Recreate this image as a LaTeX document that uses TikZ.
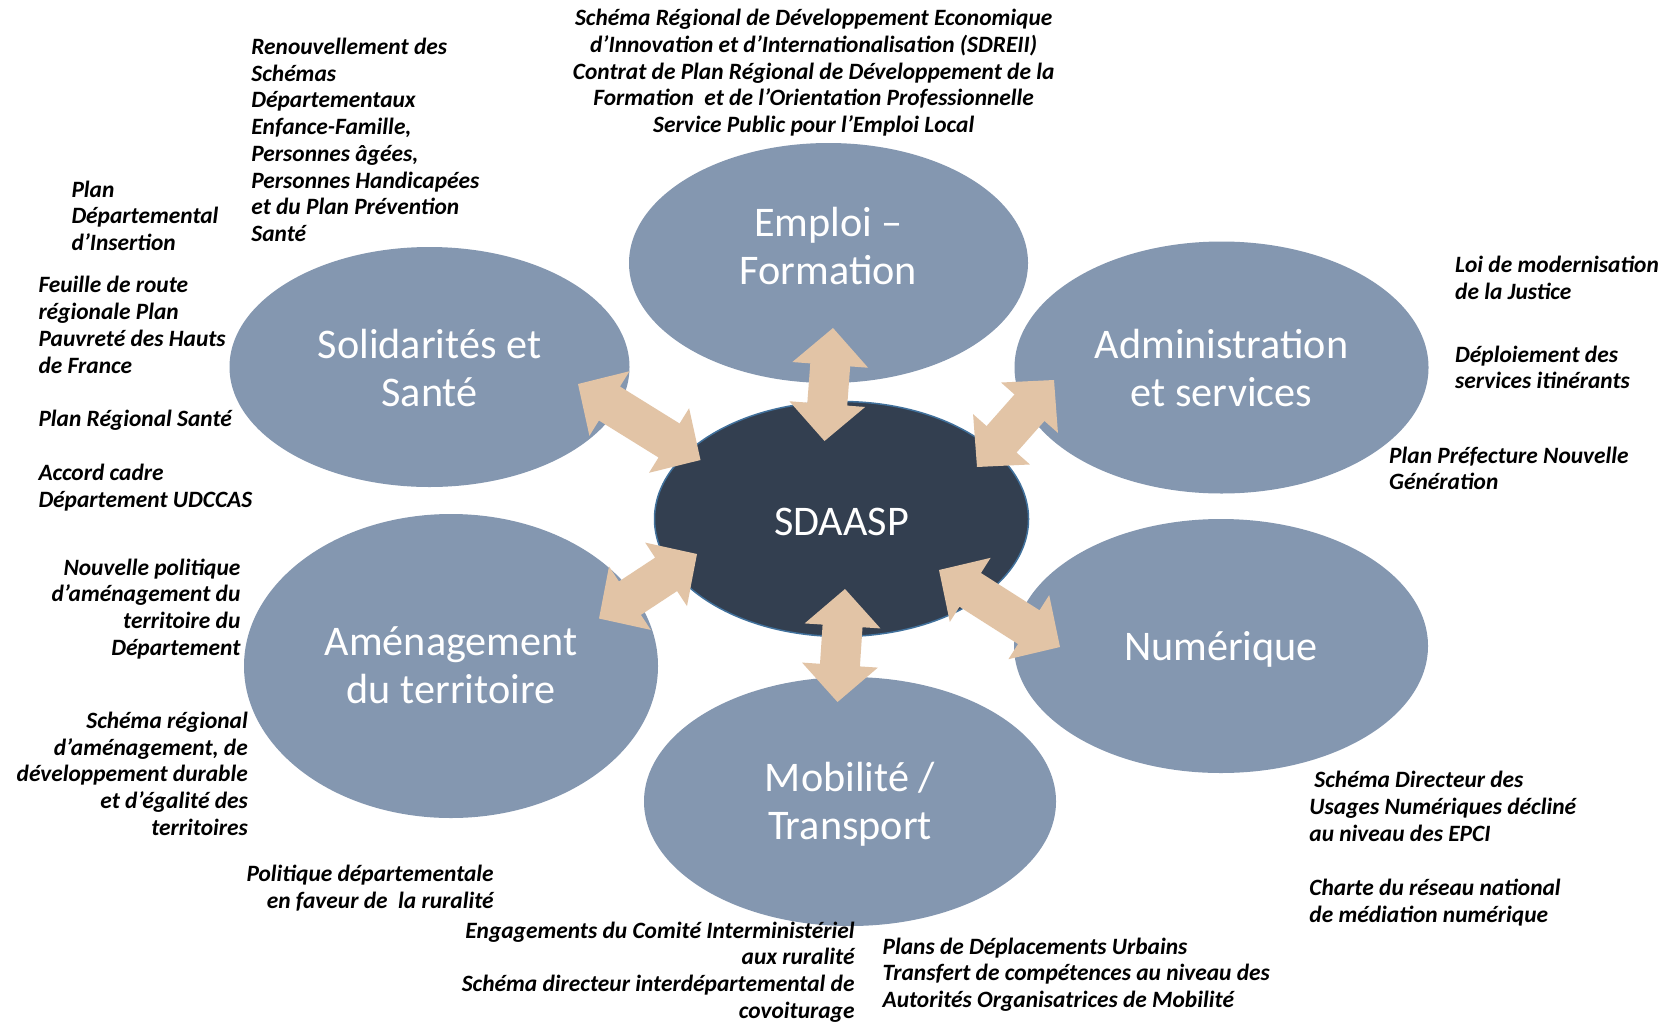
\documentclass[tikz,border=0pt]{standalone}
\usepackage{fontspec}
\setmainfont{Carlito}
\usetikzlibrary{calc,shapes.geometric}
\definecolor{bubblecol}{HTML}{8497B0}
\definecolor{corecol}{HTML}{333F50}
\definecolor{corerim}{HTML}{41719C}
\definecolor{arrowcol}{HTML}{E2C4A6}
\newcommand\notefont{\fontsize{23.4}{26.7}\selectfont\bfseries\itshape}
\newcommand\bubfont{\fontsize{42.2}{48}\selectfont}
\newcommand\arrhead{37pt}
\newcommand\arrhalf{38pt}
\newcommand\arrshaft{20pt}
\newcommand\dblarrow[2]{%
  \fill[arrowcol] (#1)
   -- ($(#1)!\arrhead!(#2)!\arrhalf!90:(#2)$)
   -- ($(#1)!\arrhead!(#2)!\arrshaft!90:(#2)$)
   -- ($(#2)!\arrhead!(#1)!\arrshaft!-90:(#1)$)
   -- ($(#2)!\arrhead!(#1)!\arrhalf!-90:(#1)$)
   -- (#2)
   -- ($(#2)!\arrhead!(#1)!\arrhalf!90:(#1)$)
   -- ($(#2)!\arrhead!(#1)!\arrshaft!90:(#1)$)
   -- ($(#1)!\arrhead!(#2)!\arrshaft!-90:(#2)$)
   -- ($(#1)!\arrhead!(#2)!\arrhalf!-90:(#2)$)
   -- cycle;}
\begin{document}
\begin{tikzpicture}[x=1pt,y=-1pt,
  bubble/.style={ellipse, fill=bubblecol, inner sep=0pt},
  core/.style={ellipse, fill=corecol, draw=corerim, line width=1.5pt, inner sep=0pt},
  bubtext/.style={inner sep=0pt, text=white, font=\bubfont, align=center},
  note/.style={font=\notefont, inner sep=0pt, execute at begin node=\strut},
  notel/.style={note, align=left, anchor=north west},
  noter/.style={note, align=right, anchor=north east},
  notec/.style={note, align=center, anchor=north}]
\useasboundingbox (0,0) rectangle (1669,1023);
\fill[white] (0,0) rectangle (1669,1023);

% bubbles
\node[bubble, minimum width=399pt, minimum height=240pt] (emploi) at (828.5,263) {};
\node[bubble, minimum width=400pt, minimum height=240pt] (solid) at (429.5,367) {};
\node[bubble, minimum width=414pt, minimum height=252pt] (admin) at (1221.5,367.5) {};
\node[bubble, minimum width=414pt, minimum height=304pt] (amenag) at (451,666) {};
\node[bubble, minimum width=414pt, minimum height=254pt] (numer) at (1221,646) {};
\node[bubble, minimum width=412pt, minimum height=249pt] (mobil) at (850,801.5) {};
\node[core, minimum width=374pt, minimum height=235pt] (sdaasp) at (841.5,519) {};

% bubble labels
\node[bubtext] (emploitext) at (828.5,245.5) {Emploi –\\Formation};
\node[bubtext] (solidtext) at (429.5,368) {Solidarités et\\Santé};
\node[bubtext] (admintext) at (1221.5,367.5) {Administration\\et services};
\node[bubtext] (amenagtext) at (451,665) {Aménagement\\du territoire};
\node[bubtext] (numertext) at (1221,649) {Numérique};
\node[bubtext] (mobiltext) at (850,804.5) {Mobilité /\\Transport};
\node[bubtext] (sdaasptext) at (841.5,522) {SDAASP};

% arrow end points
\coordinate (topA) at (833,328);
\coordinate (topB) at (824.5,441);
\coordinate (ulA) at (578,384);
\coordinate (ulB) at (700.5,460);
\coordinate (urA) at (1054,380);
\coordinate (urB) at (977,467);
\coordinate (llA) at (697,554);
\coordinate (llB) at (599,618.5);
\coordinate (lrA) at (939,570);
\coordinate (lrB) at (1060,647);
\coordinate (botA) at (845,589);
\coordinate (botB) at (837.5,702);
\dblarrow{topA}{topB}
\dblarrow{ulA}{ulB}
\dblarrow{urA}{urB}
\dblarrow{llA}{llB}
\dblarrow{lrA}{lrB}
\dblarrow{botA}{botB}

% notes
\node[notec] (n1) at (813.7,9.2) {Schéma Régional de Développement Economique\\d’Innovation et d’Internationalisation (SDREII)\\Contrat de Plan Régional de Développement de la\\Formation~ et de l’Orientation Professionnelle\\Service Public pour l’Emploi Local};
\node[notel] (n2) at (251.2,37.9) {Renouvellement des\\Schémas\\Départementaux\\Enfance-Famille,\\Personnes âgées,\\Personnes Handicapées\\et du Plan Prévention\\Santé};
\node[notel] (n3) at (71.3,180.5) {Plan\\Départemental\\d’Insertion};
\node[notel] (n4) at (38.3,276.3) {Feuille de route\\régionale Plan\\Pauvreté des Hauts\\de France};
\node[notel] (n5) at (38.3,407.2) {Plan Régional Santé};
\node[notel] (n6) at (38.3,463.7) {Accord cadre\\Département UDCCAS};
\node[noter] (n7) at (240.6,558.4) {Nouvelle politique\\d’aménagement du\\territoire du\\Département};
\node[noter] (n8) at (248,711.7) {Schéma régional\\d’aménagement, de\\développement durable\\et d’égalité des\\territoires};
\node[noter] (n9) at (493.9,865) {Politique départementale\\en faveur de~ la ruralité};
\node[noter] (n10) at (854.7,921.5) {Engagements du Comité Interministériel\\aux ruralité\\Schéma directeur interdépartemental de\\covoiturage};
\node[notel] (n11) at (882.4,937.4) {Plans de Déplacements Urbains\\Transfert de compétences au niveau des\\Autorités Organisatrices de Mobilité};
\node[notel] (n12) at (1309.2,771.3) {\hspace*{5pt}Schéma Directeur des\\Usages Numériques décliné\\au niveau des EPCI};
\node[notel] (n13) at (1309.2,878.8) {Charte du réseau national\\de médiation numérique};
\node[notel] (n14) at (1455,256.1) {Loi de modernisation\\de la Justice};
\node[notel] (n15) at (1455,345.5) {Déploiement des\\services itinérants};
\node[notel] (n16) at (1389,446.6) {Plan Préfecture Nouvelle\\Génération};
\end{tikzpicture}
\end{document}
